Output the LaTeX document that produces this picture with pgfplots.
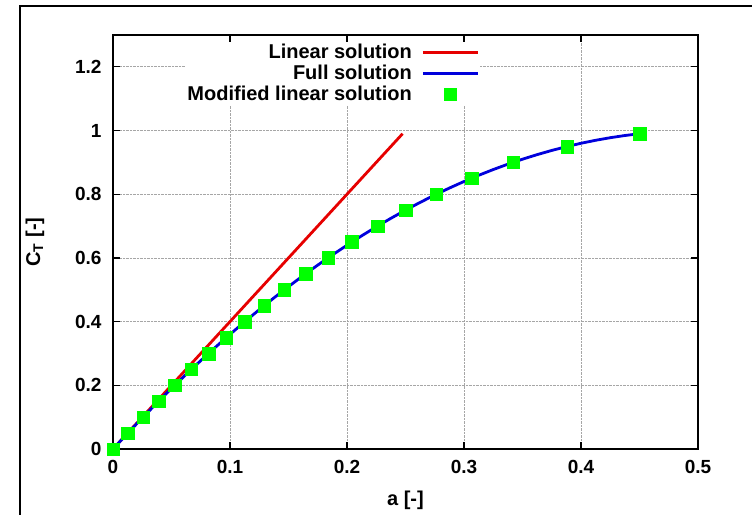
\documentclass[border=0pt]{standalone}
\usepackage{fontspec}
\setmainfont{Liberation Sans}
\usepackage{pgfplots}
\pgfplotsset{compat=1.18}
\definecolor{gpred}{RGB}{230,0,0}
\definecolor{gpblue}{RGB}{0,0,220}
\definecolor{gpgreen}{RGB}{0,255,0}
\pgfplotsset{
  linelegend/.style={legend image code/.code={\draw[##1, line width=2.8pt] (0pt,0pt) -- (55pt,0pt);}},
  marklegend/.style={legend image code/.code={\draw[##1] plot coordinates {(27.5pt,0pt)};}},
}
\begin{document}
\begin{tikzpicture}[x=1pt,y=1pt]
\useasboundingbox (0,0) rectangle (752,514);
\draw[line width=2pt] (20,-20) -- (20,508) -- (780,508);
\begin{axis}[
  at={(113pt,65pt)}, anchor=south west,
  width=585pt, height=414pt, scale only axis,
  xmin=0, xmax=0.5, ymin=0, ymax=1.3,
  xtick={0,0.1,0.2,0.3,0.4,0.5},
  ytick={0,0.2,0.4,0.6,0.8,1,1.2},
  /pgf/number format/assume math mode=true,
  ticklabel style={font=\fontsize{19}{22}\selectfont\bfseries},
  xticklabel style={yshift=-8pt},
  yticklabel style={xshift=-8pt},
  major tick length=7pt,
  tick style={black, line width=1.2pt},
  axis line style={line width=1.6pt},
  grid=major,
  major grid style={densely dotted, gray!70, line width=0.8pt},
  xlabel={a [-]},
  ylabel={C\textsubscript{T} [-]},
  label style={font=\fontsize{20}{24}\selectfont\bfseries},
  xlabel style={yshift=-10pt},
  ylabel style={yshift=24pt},
  clip=false,
  legend plot pos=right,
  legend cell align=right,
  legend style={at={(rel axis cs:0.628,0.984)}, anchor=north east, draw=none, fill=white,
    font=\fontsize{20}{24}\selectfont\bfseries, inner sep=1pt, row sep=2pt, column sep=8pt,
    nodes={inner sep=1.5pt}},
]
\addplot[gpred, line width=2.8pt, linelegend]
  coordinates {(0,0) (0.2475,0.99)};
\addlegendentry{Linear solution}
\addplot[gpblue, line width=2.8pt, linelegend]
  coordinates {(0,0) (0.0125,0.049375) (0.025,0.0975) (0.0375,0.144375) (0.05,0.19)
  (0.0625,0.234375) (0.075,0.2775) (0.0875,0.319375) (0.1,0.36) (0.1125,0.399375)
  (0.125,0.4375) (0.1375,0.474375) (0.15,0.51) (0.1625,0.544375) (0.175,0.5775)
  (0.1875,0.609375) (0.2,0.64) (0.2125,0.669375) (0.225,0.6975) (0.2375,0.724375)
  (0.25,0.75) (0.2625,0.774375) (0.275,0.7975) (0.2875,0.819375) (0.3,0.84)
  (0.3125,0.859375) (0.325,0.8775) (0.3375,0.894375) (0.35,0.91) (0.3625,0.924375)
  (0.375,0.9375) (0.3875,0.949375) (0.4,0.96) (0.4125,0.969375) (0.425,0.9775)
  (0.4375,0.984375) (0.45,0.99)};
\addlegendentry{Full solution}
\addplot[only marks, mark=square*, mark size=6.3pt, gpgreen, mark options={draw=gpgreen, fill=gpgreen},
  marklegend]
  coordinates {(0,0) (0.01266,0.05) (0.02566,0.1) (0.03902,0.15) (0.05279,0.2)
  (0.06699,0.25) (0.08167,0.3) (0.09689,0.35) (0.1127,0.4) (0.12919,0.45)
  (0.14645,0.5) (0.16459,0.55) (0.18377,0.6) (0.2042,0.65) (0.22614,0.7)
  (0.25,0.75) (0.27639,0.8) (0.30635,0.85) (0.34189,0.9) (0.3882,0.95) (0.45,0.99)};
\addlegendentry{Modified linear solution}
\end{axis}
\end{tikzpicture}
\end{document}
